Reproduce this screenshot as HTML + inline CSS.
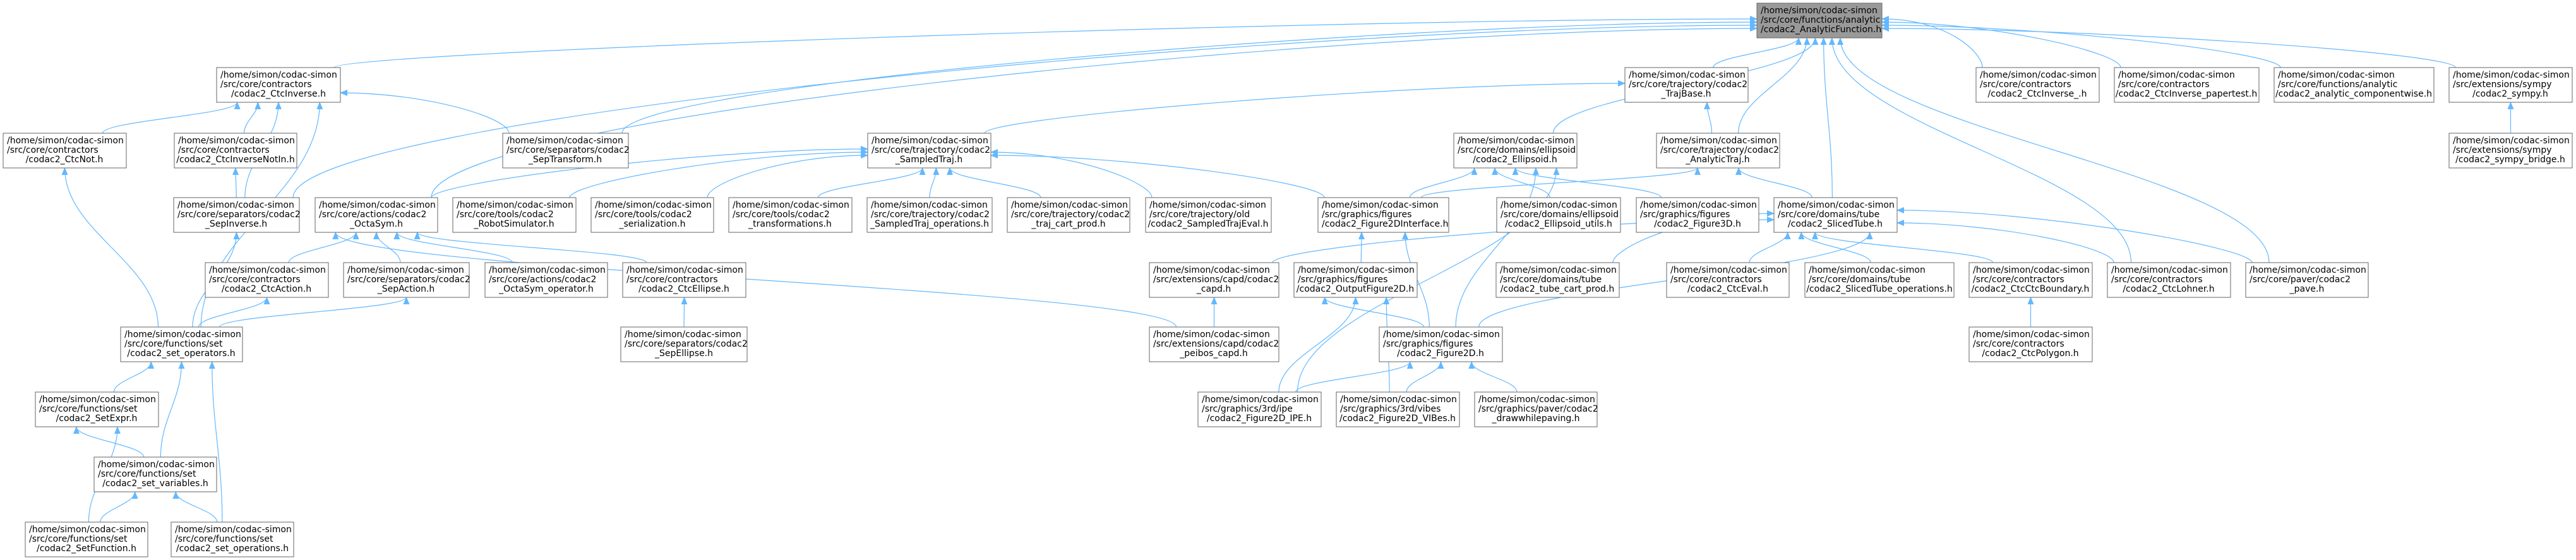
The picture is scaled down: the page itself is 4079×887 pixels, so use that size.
<!DOCTYPE html>
<html><head><meta charset="utf-8"><style>
html,body{margin:0;padding:0;background:#fff;}
svg{display:block;}
text{font-family:"DejaVu Sans","Liberation Sans",sans-serif;font-size:14px;fill:#000;}
.n{fill:#fff;stroke:#666;stroke-width:1;}
.m{fill:#999;stroke:#666;stroke-width:1;}
.e{fill:none;stroke:#63b8ff;stroke-width:1.2;}
</style></head><body>
<svg id="s" width="4079" height="887" viewBox="0 0 4079 887" xmlns="http://www.w3.org/2000/svg">
<defs><marker id="a" markerWidth="12" markerHeight="10" refX="11" refY="5" orient="auto" markerUnits="userSpaceOnUse"><path d="M0,0 L12,5 L0,10 z" fill="#63b8ff"/></marker></defs>
<g id="edges"></g>
<g id="nodes">
<g><rect class="m" x="2782" y="5" width="198" height="55"/><text x="2788" y="21">/home/simon/codac-simon</text><text x="2788" y="36">/src/core/functions/analytic</text><text x="2788" y="51">/codac2_AnalyticFunction.h</text></g>

<g><rect class="n" x="343" y="107" width="196" height="55"/><text x="349" y="123">/home/simon/codac-simon</text><text x="349" y="138">/src/core/contractors</text><text x="441" y="153" text-anchor="middle">/codac2_CtcInverse.h</text></g>
<g><rect class="n" x="2573" y="107" width="195" height="55"/><text x="2579" y="123">/home/simon/codac-simon</text><text x="2579" y="138">/src/core/trajectory/codac2</text><text x="2670" y="153" text-anchor="middle">_TrajBase.h</text></g>
<g><rect class="n" x="3129" y="107" width="195" height="55"/><text x="3135" y="123">/home/simon/codac-simon</text><text x="3135" y="138">/src/core/contractors</text><text x="3226" y="153" text-anchor="middle">/codac2_CtcInverse_.h</text></g>
<g><rect class="n" x="3348" y="107" width="229" height="55"/><text x="3354" y="123">/home/simon/codac-simon</text><text x="3354" y="138">/src/core/contractors</text><text x="3462" y="153" text-anchor="middle">/codac2_CtcInverse_papertest.h</text></g>
<g><rect class="n" x="3601" y="107" width="253" height="55"/><text x="3607" y="123">/home/simon/codac-simon</text><text x="3607" y="138">/src/core/functions/analytic</text><text x="3727" y="153" text-anchor="middle">/codac2_analytic_componentwise.h</text></g>
<g><rect class="n" x="3878" y="107" width="195" height="55"/><text x="3884" y="123">/home/simon/codac-simon</text><text x="3884" y="138">/src/extensions/sympy</text><text x="3975" y="153" text-anchor="middle">/codac2_sympy.h</text></g>

<g><rect class="n" x="5" y="211" width="195" height="55"/><text x="11" y="227">/home/simon/codac-simon</text><text x="11" y="242">/src/core/contractors</text><text x="102" y="257" text-anchor="middle">/codac2_CtcNot.h</text></g>
<g><rect class="n" x="276" y="211" width="194" height="55"/><text x="282" y="227">/home/simon/codac-simon</text><text x="282" y="242">/src/core/contractors</text><text x="373" y="257" text-anchor="middle">/codac2_CtcInverseNotIn.h</text></g>
<g><rect class="n" x="796" y="211" width="199" height="55"/><text x="802" y="227">/home/simon/codac-simon</text><text x="802" y="242">/src/core/separators/codac2</text><text x="895" y="257" text-anchor="middle">_SepTransform.h</text></g>
<g><rect class="n" x="1374" y="211" width="195" height="55"/><text x="1380" y="227">/home/simon/codac-simon</text><text x="1380" y="242">/src/core/trajectory/codac2</text><text x="1471" y="257" text-anchor="middle">_SampledTraj.h</text></g>
<g><rect class="n" x="2302" y="211" width="195" height="55"/><text x="2308" y="227">/home/simon/codac-simon</text><text x="2308" y="242">/src/core/domains/ellipsoid</text><text x="2399" y="257" text-anchor="middle">/codac2_Ellipsoid.h</text></g>
<g><rect class="n" x="2623" y="211" width="195" height="55"/><text x="2629" y="227">/home/simon/codac-simon</text><text x="2629" y="242">/src/core/trajectory/codac2</text><text x="2720" y="257" text-anchor="middle">_AnalyticTraj.h</text></g>
<g><rect class="n" x="3878" y="211" width="195" height="55"/><text x="3884" y="227">/home/simon/codac-simon</text><text x="3884" y="242">/src/extensions/sympy</text><text x="3975" y="257" text-anchor="middle">/codac2_sympy_bridge.h</text></g>

<g><rect class="n" x="275" y="313" width="199" height="55"/><text x="281" y="329">/home/simon/codac-simon</text><text x="281" y="344">/src/core/separators/codac2</text><text x="374" y="359" text-anchor="middle">_SepInverse.h</text></g>
<g><rect class="n" x="499" y="313" width="194" height="55"/><text x="505" y="329">/home/simon/codac-simon</text><text x="505" y="344">/src/core/actions/codac2</text><text x="596" y="359" text-anchor="middle">_OctaSym.h</text></g>
<g><rect class="n" x="717" y="313" width="195" height="55"/><text x="723" y="329">/home/simon/codac-simon</text><text x="723" y="344">/src/core/tools/codac2</text><text x="814" y="359" text-anchor="middle">_RobotSimulator.h</text></g>
<g><rect class="n" x="936" y="313" width="194" height="55"/><text x="942" y="329">/home/simon/codac-simon</text><text x="942" y="344">/src/core/tools/codac2</text><text x="1033" y="359" text-anchor="middle">_serialization.h</text></g>
<g><rect class="n" x="1154" y="313" width="195" height="55"/><text x="1160" y="329">/home/simon/codac-simon</text><text x="1160" y="344">/src/core/tools/codac2</text><text x="1251" y="359" text-anchor="middle">_transformations.h</text></g>
<g><rect class="n" x="1373" y="313" width="198" height="55"/><text x="1379" y="329">/home/simon/codac-simon</text><text x="1379" y="344">/src/core/trajectory/codac2</text><text x="1472" y="359" text-anchor="middle">_SampledTraj_operations.h</text></g>
<g><rect class="n" x="1595" y="313" width="194" height="55"/><text x="1601" y="329">/home/simon/codac-simon</text><text x="1601" y="344">/src/core/trajectory/codac2</text><text x="1692" y="359" text-anchor="middle">_traj_cart_prod.h</text></g>
<g><rect class="n" x="1814" y="313" width="199" height="55"/><text x="1820" y="329">/home/simon/codac-simon</text><text x="1820" y="344">/src/core/trajectory/old</text><text x="1913" y="359" text-anchor="middle">/codac2_SampledTrajEval.h</text></g>
<g><rect class="n" x="2087" y="313" width="207" height="55"/><text x="2093" y="329">/home/simon/codac-simon</text><text x="2093" y="344">/src/graphics/figures</text><text x="2093" y="359">/codac2_Figure2DInterface.h</text></g>
<g><rect class="n" x="2370" y="313" width="196" height="55"/><text x="2376" y="329">/home/simon/codac-simon</text><text x="2376" y="344">/src/core/domains/ellipsoid</text><text x="2468" y="359" text-anchor="middle">/codac2_Ellipsoid_utils.h</text></g>
<g><rect class="n" x="2591" y="313" width="194" height="55"/><text x="2597" y="329">/home/simon/codac-simon</text><text x="2597" y="344">/src/graphics/figures</text><text x="2688" y="359" text-anchor="middle">/codac2_Figure3D.h</text></g>
<g><rect class="n" x="2809" y="313" width="195" height="55"/><text x="2815" y="329">/home/simon/codac-simon</text><text x="2815" y="344">/src/core/domains/tube</text><text x="2906" y="359" text-anchor="middle">/codac2_SlicedTube.h</text></g>

<g><rect class="n" x="325" y="416" width="195" height="55"/><text x="331" y="432">/home/simon/codac-simon</text><text x="331" y="447">/src/core/contractors</text><text x="422" y="462" text-anchor="middle">/codac2_CtcAction.h</text></g>
<g><rect class="n" x="544" y="416" width="199" height="55"/><text x="550" y="432">/home/simon/codac-simon</text><text x="550" y="447">/src/core/separators/codac2</text><text x="643" y="462" text-anchor="middle">_SepAction.h</text></g>
<g><rect class="n" x="768" y="416" width="194" height="55"/><text x="774" y="432">/home/simon/codac-simon</text><text x="774" y="447">/src/core/actions/codac2</text><text x="865" y="462" text-anchor="middle">_OctaSym_operator.h</text></g>
<g><rect class="n" x="986" y="416" width="195" height="55"/><text x="992" y="432">/home/simon/codac-simon</text><text x="992" y="447">/src/core/contractors</text><text x="1083" y="462" text-anchor="middle">/codac2_CtcEllipse.h</text></g>
<g><rect class="n" x="1820" y="416" width="205" height="55"/><text x="1826" y="432">/home/simon/codac-simon</text><text x="1826" y="447">/src/extensions/capd/codac2</text><text x="1922" y="462" text-anchor="middle">_capd.h</text></g>
<g><rect class="n" x="2049" y="416" width="195" height="55"/><text x="2055" y="432">/home/simon/codac-simon</text><text x="2055" y="447">/src/graphics/figures</text><text x="2146" y="462" text-anchor="middle">/codac2_OutputFigure2D.h</text></g>
<g><rect class="n" x="2369" y="416" width="195" height="55"/><text x="2375" y="432">/home/simon/codac-simon</text><text x="2375" y="447">/src/core/domains/tube</text><text x="2466" y="462" text-anchor="middle">/codac2_tube_cart_prod.h</text></g>
<g><rect class="n" x="2639" y="416" width="194" height="55"/><text x="2645" y="432">/home/simon/codac-simon</text><text x="2645" y="447">/src/core/contractors</text><text x="2736" y="462" text-anchor="middle">/codac2_CtcEval.h</text></g>
<g><rect class="n" x="2858" y="416" width="236" height="55"/><text x="2864" y="432">/home/simon/codac-simon</text><text x="2864" y="447">/src/core/domains/tube</text><text x="2976" y="462" text-anchor="middle">/codac2_SlicedTube_operations.h</text></g>
<g><rect class="n" x="3118" y="416" width="195" height="55"/><text x="3124" y="432">/home/simon/codac-simon</text><text x="3124" y="447">/src/core/contractors</text><text x="3215" y="462" text-anchor="middle">/codac2_CtcCtcBoundary.h</text></g>
<g><rect class="n" x="3337" y="416" width="195" height="55"/><text x="3343" y="432">/home/simon/codac-simon</text><text x="3343" y="447">/src/core/contractors</text><text x="3434" y="462" text-anchor="middle">/codac2_CtcLohner.h</text></g>
<g><rect class="n" x="3556" y="416" width="194" height="55"/><text x="3562" y="432">/home/simon/codac-simon</text><text x="3562" y="447">/src/core/paver/codac2</text><text x="3653" y="462" text-anchor="middle">_pave.h</text></g>

<g><rect class="n" x="191" y="518" width="193" height="55"/><text x="197" y="534">/home/simon/codac-simon</text><text x="197" y="549">/src/core/functions/set</text><text x="287" y="564" text-anchor="middle">/codac2_set_operators.h</text></g>
<g><rect class="n" x="983" y="518" width="200" height="55"/><text x="989" y="534">/home/simon/codac-simon</text><text x="989" y="549">/src/core/separators/codac2</text><text x="1083" y="564" text-anchor="middle">_SepEllipse.h</text></g>
<g><rect class="n" x="1820" y="518" width="205" height="55"/><text x="1826" y="534">/home/simon/codac-simon</text><text x="1826" y="549">/src/extensions/capd/codac2</text><text x="1922" y="564" text-anchor="middle">_peibos_capd.h</text></g>
<g><rect class="n" x="2184" y="518" width="195" height="55"/><text x="2190" y="534">/home/simon/codac-simon</text><text x="2190" y="549">/src/graphics/figures</text><text x="2281" y="564" text-anchor="middle">/codac2_Figure2D.h</text></g>
<g><rect class="n" x="3118" y="518" width="195" height="55"/><text x="3124" y="534">/home/simon/codac-simon</text><text x="3124" y="549">/src/core/contractors</text><text x="3215" y="564" text-anchor="middle">/codac2_CtcPolygon.h</text></g>

<g><rect class="n" x="56" y="621" width="195" height="55"/><text x="62" y="637">/home/simon/codac-simon</text><text x="62" y="652">/src/core/functions/set</text><text x="153" y="667" text-anchor="middle">/codac2_SetExpr.h</text></g>
<g><rect class="n" x="1897" y="621" width="195" height="55"/><text x="1903" y="637">/home/simon/codac-simon</text><text x="1903" y="652">/src/graphics/3rd/ipe</text><text x="1994" y="667" text-anchor="middle">/codac2_Figure2D_IPE.h</text></g>
<g><rect class="n" x="2116" y="621" width="195" height="55"/><text x="2122" y="637">/home/simon/codac-simon</text><text x="2122" y="652">/src/graphics/3rd/vibes</text><text x="2213" y="667" text-anchor="middle">/codac2_Figure2D_VIBes.h</text></g>
<g><rect class="n" x="2335" y="621" width="194" height="55"/><text x="2341" y="637">/home/simon/codac-simon</text><text x="2341" y="652">/src/graphics/paver/codac2</text><text x="2432" y="667" text-anchor="middle">_drawwhilepaving.h</text></g>

<g><rect class="n" x="149" y="724" width="194" height="55"/><text x="155" y="740">/home/simon/codac-simon</text><text x="155" y="755">/src/core/functions/set</text><text x="246" y="770" text-anchor="middle">/codac2_set_variables.h</text></g>

<g><rect class="n" x="40" y="827" width="194" height="55"/><text x="46" y="843">/home/simon/codac-simon</text><text x="46" y="858">/src/core/functions/set</text><text x="137" y="873" text-anchor="middle">/codac2_SetFunction.h</text></g>
<g><rect class="n" x="271" y="827" width="194" height="55"/><text x="277" y="843">/home/simon/codac-simon</text><text x="277" y="858">/src/core/functions/set</text><text x="368" y="873" text-anchor="middle">/codac2_set_operations.h</text></g>
</g>
</svg>
<script>
var N={M:[2782,2980,5],CI:[343,539,107],TB:[2573,2768,107],CIu:[3129,3324,107],PT:[3348,3577,107],CW:[3601,3854,107],SY:[3878,4073,107],
CN:[5,200,211],CINI:[276,470,211],ST:[796,995,211],STr:[1374,1569,211],EL:[2302,2497,211],AT:[2623,2818,211],SB:[3878,4073,211],
SI:[275,474,313],OS:[499,693,313],RS:[717,912,313],SE:[936,1130,313],TR:[1154,1349,313],SO:[1373,1571,313],TC:[1595,1789,313],SV:[1814,2013,313],FI:[2087,2294,313],EU:[2370,2566,313],F3:[2591,2785,313],STb:[2809,3004,313],
CA:[325,520,416],SA:[544,743,416],OO:[768,962,416],CE:[986,1181,416],CP:[1820,2025,416],OF:[2049,2244,416],TCP:[2369,2564,416],CEv:[2639,2833,416],STO:[2858,3094,416],CB:[3118,3313,416],CL:[3337,3532,416],PV:[3556,3750,416],
SOp:[191,384,518],SEl:[983,1183,518],PC:[1820,2025,518],F2:[2184,2379,518],PG:[3118,3313,518],
SX:[56,251,621],IPE:[1897,2092,621],VB:[2116,2311,621],DW:[2335,2529,621],SVa:[149,343,724],SF:[40,234,827],SOs:[271,465,827]};
var E=[["CI","M"],["ST","M"],["SI","M"],["OS","M"],["OS","STr"],["RS","STr"],["SE","STr"],["TR","STr"],["SO","STr"],["TC","STr"],["SV","STr"],["FI","STr"],
["STr","TB"],["TB","M"],["AT","TB"],["AT","M"],["EL","M"],["FI","AT"],["FI","EL"],["EU","EL"],["F3","EL"],["F2","EL"],["IPE","EL"],
["STb","AT"],["STb","M"],["CL","M"],["PV","M"],["CIu","M"],["PT","M"],["CW","M"],["SY","M"],["SB","SY"],
["CEv","STb"],["STO","STb"],["CB","STb"],["CL","STb"],["PV","STb"],["TCP","STb"],["F2","STb"],["CP","STb"],
["PG","CB"],["OF","FI"],["F2","FI"],["F2","OF"],["IPE","OF"],["IPE","F2"],["VB","OF"],["VB","F2"],["DW","F2"],["PC","CP"],["PC","OS"],
["CN","CI"],["CINI","CI"],["SI","CI"],["ST","CI"],["SOp","CI"],["SI","CINI"],["CA","OS"],["SA","OS"],["OO","OS"],["CE","OS"],
["SOp","CN"],["SOp","SI"],["SOp","CA"],["SOp","SA"],["SEl","CE"],["SX","SOp"],["SVa","SOp"],["SOs","SOp"],["SVa","SX"],["SF","SX"],["SF","SVa"],["SOs","SVa"]];
var cnt={},idx={};
E.forEach(function(e){cnt[e[1]]=(cnt[e[1]]||0)+1;});
var g=document.getElementById("edges"),h="";
E.forEach(function(e){
 var c=N[e[0]],p=N[e[1]];
 var cx=(c[0]+c[1])/2,cy=c[2];
 var pcx=(p[0]+p[1])/2,py=p[2]+55;
 idx[e[1]]=(idx[e[1]]||0)+1;
 var k=cnt[e[1]],i=idx[e[1]];
 var px,d;
 var dx=pcx-cx,dy=cy-py;
 if(Math.abs(dx)>3*dy+200 && (e[1]=="M"||e[1]=="STr"||e[1]=="TB"||e[1]=="EL"||e[1]=="STb"||e[1]=="CI")){
  // attach to side
  var sx=dx>0?p[0]:p[1],sy=p[2]+20+((i%5)*5);
  var ccx=dx>0?(c[1]-10):(c[0]+10);
  d="M"+ccx+","+cy+" C"+ccx+","+(cy-dy*0.5)+" "+(sx+(dx>0?-Math.abs(dx)*0.3:Math.abs(dx)*0.3))+","+sy+" "+sx+","+sy;
 } else {
  px=p[0]+ (p[1]-p[0])*(i/(k+1));
  var ccx=cx+Math.max(-60,Math.min(60,dx*0.2));
  d="M"+ccx+","+cy+" C"+ccx+","+(cy-dy*0.4)+" "+px+","+(py+dy*0.4)+" "+px+","+py;
 }
 h+='<path class="e" d="'+d+'" marker-end="url(#a)"/>';
});
g.innerHTML=h;
</script>
</body></html>
